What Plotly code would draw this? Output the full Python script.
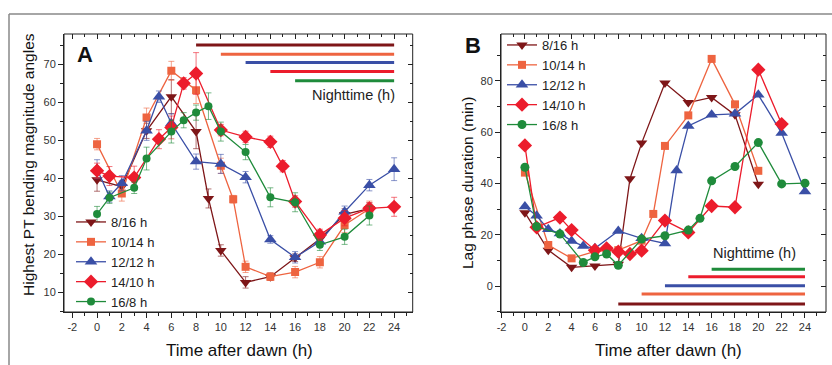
import plotly.graph_objects as go

# ---------------- data ----------------
series_names = ["8/16 h", "10/14 h", "12/12 h", "14/10 h", "16/8 h"]
colors = ["#7E1618", "#EE6440", "#3A4FA6", "#EC1C2C", "#1F8B3B"]
symbols = ["triangle-down", "square", "triangle-up", "diamond", "circle"]

# Panel A: highest PT bending magnitude angles
a_x_816 = [0, 2, 4, 6, 8, 9, 10, 12, 14, 16, 18, 20, 22]
a_y_816 = [39.6, 37.8, 52.5, 61.5, 52.3, 34.7, 21.0, 12.6, 14.1, 19.1, 24.0, 30.5, 32.0]
a_e_816 = [3.0, 1.5, 2.0, 4.5, 4.5, 2.5, 1.5, 1.5, 1.0, 1.0, 1.5, 1.5, 1.5]

a_x_1014 = [0, 2, 4, 6, 8, 10, 11, 12, 14, 16, 18, 20, 22]
a_y_1014 = [49.0, 36.0, 56.0, 68.3, 63.2, 43.3, 34.5, 16.7, 14.1, 15.3, 17.9, 27.7, 32.0]
a_e_1014 = [1.5, 2.0, 2.5, 2.5, 3.5, 2.0, 1.0, 1.5, 1.0, 1.5, 1.5, 2.0, 2.0]

a_x_1212 = [0, 1, 2, 4, 5, 6, 8, 10, 12, 14, 16, 18, 20, 22, 24]
a_y_1212 = [42.4, 35.2, 38.7, 52.5, 61.5, 54.5, 44.4, 43.8, 40.3, 23.9, 19.2, 23.3, 31.2, 38.2, 42.4]
a_e_1212 = [2.5, 1.5, 2.0, 2.5, 1.5, 2.5, 2.0, 2.5, 1.5, 1.0, 1.5, 1.5, 1.5, 1.5, 3.0]

a_x_1410 = [0, 1, 3, 5, 6, 7, 8, 10, 12, 14, 15, 16, 18, 20, 22, 24]
a_y_1410 = [42.0, 40.6, 40.2, 50.3, 53.4, 65.0, 67.6, 52.7, 50.9, 49.6, 43.2, 33.9, 25.1, 29.5, 32.1, 32.5]
a_e_1410 = [2.0, 2.5, 3.0, 2.5, 3.0, 1.5, 5.5, 1.5, 1.5, 1.5, 1.5, 1.5, 1.5, 2.0, 1.5, 2.5]

a_x_168 = [0, 1, 3, 4, 6, 7, 8, 9, 10, 12, 14, 16, 18, 20, 22]
a_y_168 = [30.6, 34.9, 37.5, 45.2, 52.3, 55.3, 57.3, 59.0, 52.3, 46.9, 35.0, 33.7, 22.5, 24.6, 30.2]
a_e_168 = [2.0, 1.5, 1.5, 3.0, 3.0, 2.0, 2.0, 3.5, 2.5, 2.0, 2.5, 2.5, 1.5, 2.0, 2.5]

# Panel B: lag phase duration (min)
b_x_816 = [0, 2, 4, 6, 8, 9, 10, 12, 14, 16, 18, 20]
b_y_816 = [28.6, 14.0, 7.3, 7.8, 8.5, 41.8, 55.7, 79.1, 71.5, 73.5, 66.7, 39.7]

b_x_1014 = [0, 2, 4, 6, 8, 10, 11, 12, 14, 16, 18, 20]
b_y_1014 = [44.2, 16.0, 10.8, 13.5, 14.0, 17.7, 28.1, 54.6, 66.5, 88.5, 70.8, 44.9]

b_x_1212 = [0, 1, 2, 3, 4, 5, 6, 8, 10, 12, 13, 14, 16, 18, 20, 22, 24]
b_y_1212 = [31.0, 27.4, 22.1, 20.5, 17.6, 15.6, 14.7, 21.5, 18.6, 16.6, 45.0, 62.4, 66.7, 67.1, 74.5, 59.6, 36.8]

b_x_1410 = [0, 1, 3, 4, 6, 7, 8, 9, 10, 12, 14, 16, 18, 20, 22]
b_y_1410 = [54.8, 22.9, 26.7, 21.8, 14.0, 14.7, 13.4, 12.5, 13.8, 25.5, 20.9, 31.2, 30.7, 84.3, 63.1]

b_x_168 = [0, 1, 3, 5, 6, 7, 8, 10, 12, 14, 15, 16, 18, 20, 22, 24]
b_y_168 = [46.3, 23.2, 20.3, 9.2, 11.4, 12.5, 8.1, 18.3, 19.6, 21.8, 26.4, 41.0, 46.6, 55.9, 39.8, 40.1]

# Nighttime bars (start hour, end hour)
night_start = [8, 10, 12, 14, 16]
night_end = 24
night_level_a = [75.1, 72.7, 70.5, 68.1, 65.7]
night_level_b = [-7.0, -3.1, 0.1, 3.6, 6.6]

x_tick_vals = list(range(-2, 25, 2))
x_tick_text = [str(v) for v in x_tick_vals]          # plain hyphen "-2"
ya_tick_vals = [10, 20, 30, 40, 50, 60, 70]
yb_tick_vals = [0, 20, 40, 60, 80]

# ---------------- figure ----------------
A_X = [a_x_816, a_x_1014, a_x_1212, a_x_1410, a_x_168]
A_Y = [a_y_816, a_y_1014, a_y_1212, a_y_1410, a_y_168]
A_E = [a_e_816, a_e_1014, a_e_1212, a_e_1410, a_e_168]
B_X = [b_x_816, b_x_1014, b_x_1212, b_x_1410, b_x_168]
B_Y = [b_y_816, b_y_1014, b_y_1212, b_y_1410, b_y_168]

msize_a = [10, 8, 11, 11, 8]
msize_b = [10, 8, 11, 11, 9]


def rgba(hexc, a):
    h = hexc.lstrip("#")
    return "rgba(%d,%d,%d,%.2f)" % (int(h[0:2], 16), int(h[2:4], 16), int(h[4:6], 16), a)


fig = go.Figure()

for i in range(5):
    fig.add_trace(go.Scatter(x=[night_start[i], night_end], y=[night_level_a[i]] * 2,
                             mode="lines", line=dict(color=colors[i], width=3),
                             showlegend=False, hoverinfo="skip", xaxis="x", yaxis="y"))
    fig.add_trace(go.Scatter(x=[night_start[i], night_end], y=[night_level_b[i]] * 2,
                             mode="lines", line=dict(color=colors[i], width=3),
                             showlegend=False, hoverinfo="skip", xaxis="x2", yaxis="y2"))

for i in range(5):
    fig.add_trace(go.Scatter(
        x=A_X[i], y=A_Y[i], name=series_names[i], mode="lines+markers",
        line=dict(color=colors[i], width=1.3),
        marker=dict(symbol=symbols[i], size=msize_a[i], color=colors[i]),
        error_y=dict(type="data", array=A_E[i], color=rgba(colors[i], 0.6), thickness=1, width=3),
        xaxis="x", yaxis="y", legend="legend"))

for i in range(5):
    fig.add_trace(go.Scatter(
        x=B_X[i], y=B_Y[i], name=series_names[i], mode="lines+markers",
        line=dict(color=colors[i], width=1.3),
        marker=dict(symbol=symbols[i], size=msize_b[i], color=colors[i]),
        xaxis="x2", yaxis="y2", legend="legend2"))

fig.add_trace(go.Scatter(x=[None], y=[None], xaxis="x3", yaxis="y3", showlegend=False))
fig.add_trace(go.Scatter(x=[None], y=[None], xaxis="x4", yaxis="y4", showlegend=False))

W, H = 832, 365
dA = [64 / W, 412.7 / W]
dB = [501 / W, 826 / W]
dY = [1 - 312 / H, 1 - 34 / H]
xrA = [-2.67, 25.5]
yrA = [4.8, 78]
xrB = [-2.05, 25.8]
yrB = [-10.1, 98.2]

FAM = "Liberation Sans, Arial"
tickfont = dict(family=FAM, size=11, color="#333333")
AX = "#222222"

base = dict(showgrid=False, zeroline=False, showline=True, linecolor=AX, linewidth=1,
            ticks="outside", ticklen=5, tickwidth=1, tickcolor=AX, tickfont=tickfont, automargin=False)


def over(dom, rng, ovl, side, anchor, vals, mdt):
    return dict(domain=dom, range=rng, overlaying=ovl, side=side, anchor=anchor, showgrid=False,
                zeroline=False, showticklabels=False, ticks="inside", ticklen=5, tickvals=vals,
                tickcolor=AX, automargin=False,
                minor=dict(dtick=mdt, tick0=0, ticks="inside", ticklen=3, tickcolor=AX))


def mnr(d):
    return dict(dtick=d, tick0=0, ticks="outside", ticklen=3, tickcolor=AX)


def ann(text, x, y, size, angle=0, bold=False):
    return dict(text=("<b>%s</b>" % text) if bold else text, xref="paper", yref="paper",
                x=x / W, y=1 - y / H, xanchor="center", yanchor="middle", textangle=angle,
                showarrow=False, font=dict(family=FAM, size=size, color="#111111"))


fig.update_layout(
    width=W, height=H, margin=dict(l=0, r=0, t=0, b=0, autoexpand=False),
    paper_bgcolor="white", plot_bgcolor="white", showlegend=True,
    xaxis=dict(base, domain=dA, range=xrA, anchor="y", tickvals=x_tick_vals, ticktext=x_tick_text,
               minor=mnr(1)),
    yaxis=dict(base, domain=dY, range=yrA, anchor="x", tickvals=ya_tick_vals, minor=mnr(5)),
    xaxis2=dict(base, domain=dB, range=xrB, anchor="y2", tickvals=x_tick_vals, ticktext=x_tick_text,
                minor=mnr(1)),
    yaxis2=dict(base, domain=dY, range=yrB, anchor="x2", tickvals=yb_tick_vals, minor=mnr(10)),
    xaxis3=over(dA, xrA, "x", "top", "y3", x_tick_vals, 1),
    yaxis3=over(dY, yrA, "y", "right", "x3", ya_tick_vals, 5),
    xaxis4=over(dB, xrB, "x2", "top", "y4", x_tick_vals, 1),
    yaxis4=over(dY, yrB, "y2", "right", "x4", yb_tick_vals, 10),
    legend=dict(x=71 / W, y=1 - 207 / H, xanchor="left", yanchor="top", bgcolor="rgba(0,0,0,0)",
                font=dict(family=FAM, size=13, color="#222222"),
                itemwidth=30, tracegroupgap=0),
    legend2=dict(x=502 / W, y=1 - 30 / H, xanchor="left", yanchor="top", bgcolor="rgba(0,0,0,0)",
                 font=dict(family=FAM, size=13, color="#222222"),
                 itemwidth=30, tracegroupgap=0),
    shapes=[
        dict(type="line", xref="paper", yref="paper", x0=9 / W, x1=1, y0=1 - 14 / H, y1=1 - 14 / H,
             line=dict(color="#888888", width=1.5)),
        dict(type="line", xref="paper", yref="paper", x0=9 / W, x1=9 / W, y0=0, y1=1 - 14 / H,
             line=dict(color="#888888", width=1.5)),
        dict(type="rect", xref="x domain", yref="y domain", x0=0, x1=1, y0=0, y1=1,
             line=dict(color=AX, width=1)),
        dict(type="rect", xref="x2 domain", yref="y2 domain", x0=0, x1=1, y0=0, y1=1,
             line=dict(color=AX, width=1)),
    ],
    annotations=[
        ann("A", 85, 55, 22, bold=True),
        ann("B", 473, 45, 22, bold=True),
        dict(text="Nighttime (h)", xref="x", yref="y", x=20.7, y=61.9, xanchor="center",
             yanchor="middle", showarrow=False, font=dict(family=FAM, size=14.5, color="#222222")),
        dict(text="Nighttime (h)", xref="x2", yref="y2", x=19.7, y=13.0, xanchor="center",
             yanchor="middle", showarrow=False, font=dict(family=FAM, size=14.5, color="#222222")),
        ann("Highest PT bending magnitude angles", 28, 165, 15.5, angle=-90),
        ann("Lag phase duration (min)", 467, 183, 15.5, angle=-90),
        ann("Time after dawn (h)", 240, 350, 17),
        ann("Time after dawn (h)", 668, 350, 17),
    ],
)

fig.write_html("out.html", config={"displayModeBar": False},
               post_script="document.body.style.margin='0px';document.body.style.overflow='hidden';")
